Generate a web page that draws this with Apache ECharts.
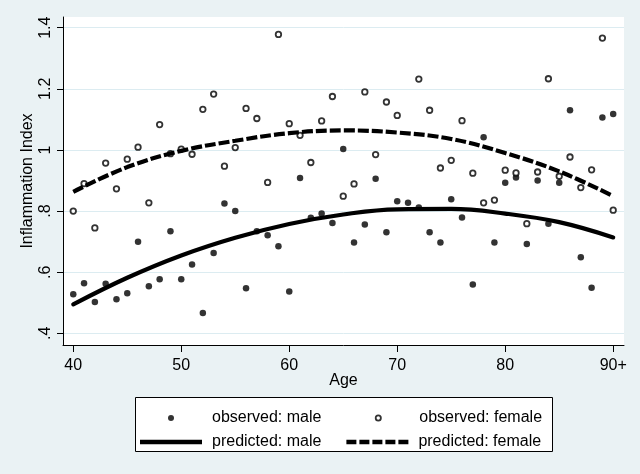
<!DOCTYPE html>
<html>
<head>
<meta charset="utf-8">
<script src="https://cdn.jsdelivr.net/npm/echarts@6/dist/echarts.min.js"></script>
<style>
html,body{margin:0;padding:0;background:#eaf2f4;}
#chart{width:640px;height:474px;}
</style>
</head>
<body>
<div id="chart"></div>
<script>
// Ages 40 .. 90 (90 = "90+")
const ages = [40,41,42,43,44,45,46,47,48,49,50,51,52,53,54,55,56,57,58,59,60,61,62,63,64,65,66,67,68,69,70,71,72,73,74,75,76,77,78,79,80,81,82,83,84,85,86,87,88,89,90];
const observedMale = [.528,.564,.503,.562,.512,.531,.700,.554,.577,.734,.577,.625,.467,.663,.825,.800,.548,.734,.721,.685,.537,.908,.778,.792,.761,1.003,.697,.756,.906,.731,.832,.827,.812,.731,.697,.839,.779,.560,1.042,.697,.893,.910,.692,.900,.759,.893,1.130,.649,.549,1.106,1.118];
const observedFemale = [.800,.890,.745,.957,.873,.970,1.009,.827,1.083,.988,1.003,.986,1.133,1.183,.947,1.008,1.136,1.103,.894,1.378,1.086,1.048,.959,1.095,1.175,.849,.889,1.190,.985,1.157,1.113,null,1.232,1.130,.941,.966,1.096,.924,.827,.836,.934,.925,.759,.928,1.233,.914,.977,.877,.935,1.366,.803];
const predAges = [40,45,50,55,60,65,70,75,80,85,90];
const predictedMale = [.495,.582,.655,.713,.758,.789,.806,.807,.792,.764,.714];
const predictedFemale = [.863,.944,.997,1.030,1.055,1.064,1.057,1.036,.990,.930,.849];
const xTicks = [40,50,60,70,80,90];
const xTickLabels = ['40','50','60','70','80','90+'];
const yTicks = [0.4,0.6,0.8,1.0,1.2,1.4];
const yTickLabels = ['.4','.6','.8','1','1.2','1.4'];

const pair = (xs, ys) => xs.map((x, i) => [x, ys[i]]).filter(p => p[1] !== null);
const font = "'Liberation Sans', Arial, sans-serif";

// legend icons (67 px wide box: 62 px sample + 5 px spacer)
const iconDot = 'path://M0,3L0,3M67,3L67,3M34,3A3,3,0,1,1,28,3A3,3,0,1,1,34,3Z';
const iconRing = 'path://M0,3L0,3M67,3L67,3M33.6,3A2.6,2.6,0,1,1,28.4,3A2.6,2.6,0,1,1,33.6,3Z';
const iconSolid = 'path://M0,0H62V4.4H0ZM67,2L67,2';
const iconDash = 'path://M0,0H10V4.4H0ZM13,0H23V4.4H13ZM26,0H36V4.4H26ZM39,0H49V4.4H39ZM52,0H62V4.4H52ZM67,2L67,2';

const chart = echarts.init(document.getElementById('chart'), null, {renderer: 'canvas'});
chart.setOption({
  backgroundColor: '#eaf2f4',
  animation: false,
  textStyle: {fontFamily: font, color: '#000'},
  grid: {left: 63, top: 17, right: 16, bottom: 129, show: true, backgroundColor: '#ffffff', borderWidth: 0},
  xAxis: {
    type: 'value', min: 39.05, max: 91.0,
    name: 'Age', nameLocation: 'middle', nameGap: 28, nameMoveOverlap: false,
    nameTextStyle: {fontSize: 16, color: '#000', fontFamily: font},
    axisLine: {show: true, onZero: false, lineStyle: {color: '#000', width: 1}},
    axisTick: {show: true, length: 7, customValues: xTicks, lineStyle: {color: '#000'}},
    axisLabel: {customValues: xTicks, fontSize: 16, color: '#000', margin: 13,
      formatter: v => xTickLabels[xTicks.indexOf(Math.round(v))] || ''},
    splitLine: {show: false}
  },
  yAxis: {
    type: 'value', min: 0.362, max: 1.435,
    name: 'Inflammation Index', nameLocation: 'middle', nameGap: 27, nameRotate: 90, nameMoveOverlap: false,
    nameTextStyle: {fontSize: 16, color: '#000', fontFamily: font},
    axisLine: {show: true, onZero: false, lineStyle: {color: '#000', width: 1}},
    axisTick: {show: true, length: 6, customValues: yTicks, lineStyle: {color: '#000'}},
    axisLabel: {customValues: yTicks, rotate: 90, fontSize: 16, color: '#000', margin: 9,
      formatter: v => yTickLabels[yTicks.findIndex(t => Math.abs(t - v) < 1e-6)] || ''},
    splitLine: {show: true, lineStyle: {color: '#dcecf1', width: 1}}
  },
  legend: [
    {
      left: 135, top: 405, orient: 'horizontal', padding: 5,
      itemWidth: 67, itemHeight: 6, itemGap: 25, selectedMode: false,
      textStyle: {fontSize: 16, color: '#000', fontFamily: font},
      data: [
        {name: 'observed: male', icon: iconDot, itemStyle: {color: '#000', borderWidth: 0}},
        {name: 'observed: female', icon: iconRing, itemStyle: {color: '#fff', borderColor: '#000', borderWidth: 1.8}}
      ]
    },
    {
      left: 135, top: 429, orient: 'horizontal', padding: 5,
      itemWidth: 67, itemHeight: 4.4, itemGap: 25, selectedMode: false,
      textStyle: {fontSize: 16, color: '#000', fontFamily: font},
      data: [
        {name: 'predicted: male', icon: iconSolid, itemStyle: {color: '#000', borderWidth: 0}},
        {name: 'predicted: female', icon: iconDash, itemStyle: {color: '#000', borderWidth: 0}}
      ]
    }
  ],
  graphic: [{
    type: 'rect', left: 135, top: 397, z: -1,
    shape: {width: 417, height: 54},
    style: {fill: '#ffffff', stroke: '#000', lineWidth: 1}
  }],
  series: [
    {
      name: 'observed: male', type: 'scatter', symbol: 'circle', symbolSize: 6.5,
      itemStyle: {color: '#000'},
      data: pair(ages, observedMale), z: 2
    },
    {
      name: 'observed: female', type: 'scatter', symbol: 'circle', symbolSize: 5.5,
      itemStyle: {color: '#fff', borderColor: '#000', borderWidth: 1.8},
      data: pair(ages, observedFemale), z: 3
    },
    {
      name: 'predicted: male', type: 'line', smooth: 0.4, showSymbol: false, symbol: 'none',
      lineStyle: {color: '#000', width: 4.2, cap: 'round'},
      itemStyle: {color: '#000'},
      data: pair(predAges, predictedMale), z: 4
    },
    {
      name: 'predicted: female', type: 'line', smooth: 0.4, showSymbol: false, symbol: 'none',
      lineStyle: {color: '#000', width: 4.2, type: [11, 3], cap: 'butt'},
      itemStyle: {color: '#000'},
      data: pair(predAges, predictedFemale), z: 4
    }
  ]
});
</script>
</body>
</html>
